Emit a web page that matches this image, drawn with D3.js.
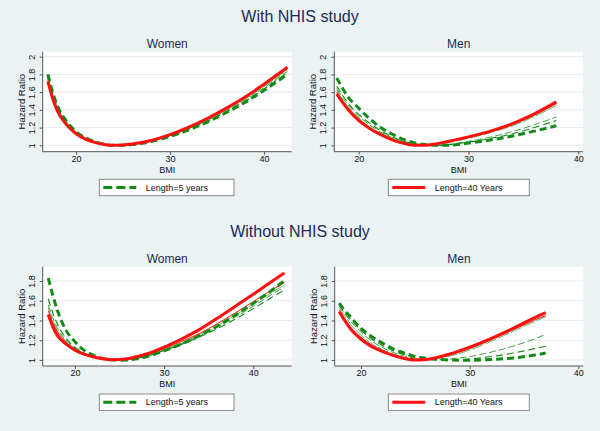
<!DOCTYPE html>
<html><head><meta charset="utf-8">
<script src="https://cdn.jsdelivr.net/npm/d3@7"></script>
<style>
body{margin:0;background:#eaf2f3;}
svg{display:block;font-family:"Liberation Sans",Arial,Helvetica,sans-serif;}
</style>
</head><body>
<svg id="c" width="600" height="431"></svg>
<script>
// ---------------- DATA ----------------
const mainTitles = ["With NHIS study", "Without NHIS study"];
const panelTitles = ["Women", "Men", "Women", "Men"];
const legendLabels = ["Length=5 years", "Length=40 Years"];
const xTicks = [20, 30, 40];
const yTicksTop = [1, 1.2, 1.4, 1.6, 1.8, 2];
const yTicksBottom = [1, 1.2, 1.4, 1.6, 1.8];
const seriesKeys = ["L10", "L15", "L20", "L30", "L5", "L40"];

// Women, with NHIS
const bmiWomenWith = [17, 17.5, 18, 19, 20, 21, 22, 23, 24, 25, 26, 27, 28, 30, 32, 34, 36, 38, 40, 42.5];
const womenWith_L5  = [1.80, 1.60, 1.45, 1.27, 1.155, 1.085, 1.04, 1.012, 1.0, 1.0, 1.008, 1.022, 1.042, 1.10, 1.175, 1.265, 1.37, 1.485, 1.62, 1.80];
const womenWith_L10 = [1.78, 1.59, 1.44, 1.26, 1.15, 1.082, 1.038, 1.011, 1.0, 1.001, 1.01, 1.025, 1.045, 1.105, 1.181, 1.273, 1.38, 1.497, 1.635, 1.82];
const womenWith_L15 = [1.77, 1.58, 1.43, 1.255, 1.145, 1.079, 1.037, 1.011, 1.0, 1.002, 1.011, 1.027, 1.048, 1.109, 1.188, 1.282, 1.39, 1.51, 1.65, 1.835];
const womenWith_L20 = [1.76, 1.57, 1.42, 1.25, 1.141, 1.076, 1.036, 1.01, 1.0, 1.003, 1.012, 1.028, 1.05, 1.112, 1.193, 1.29, 1.40, 1.522, 1.663, 1.85];
const womenWith_L30 = [1.74, 1.55, 1.40, 1.24, 1.135, 1.073, 1.034, 1.01, 1.0, 1.004, 1.014, 1.03, 1.053, 1.116, 1.199, 1.298, 1.41, 1.534, 1.677, 1.865];
const womenWith_L40 = [1.72, 1.53, 1.39, 1.23, 1.13, 1.07, 1.033, 1.01, 1.0, 1.004, 1.015, 1.032, 1.055, 1.12, 1.205, 1.305, 1.42, 1.545, 1.69, 1.88];

// Men, with NHIS
const bmiMenWith = [18, 18.5, 19, 20, 21, 22, 23, 24, 25, 26, 27, 28, 30, 32, 34, 36, 38];
const menWith_L5  = [1.76, 1.65, 1.55, 1.42, 1.30, 1.20, 1.13, 1.07, 1.03, 1.01, 1.0, 1.0, 1.025, 1.06, 1.105, 1.16, 1.22];
const menWith_L10 = [1.67, 1.57, 1.48, 1.35, 1.25, 1.165, 1.10, 1.05, 1.02, 1.005, 1.0, 1.005, 1.035, 1.078, 1.13, 1.20, 1.28];
const menWith_L15 = [1.64, 1.54, 1.46, 1.33, 1.23, 1.15, 1.09, 1.045, 1.015, 1.003, 1.0, 1.008, 1.044, 1.093, 1.155, 1.232, 1.32];
const menWith_L20 = [1.62, 1.52, 1.44, 1.31, 1.21, 1.135, 1.08, 1.037, 1.01, 1.0, 1.008, 1.026, 1.078, 1.142, 1.22, 1.325, 1.45];
const menWith_L30 = [1.60, 1.50, 1.42, 1.295, 1.20, 1.127, 1.072, 1.03, 1.005, 1.0, 1.012, 1.033, 1.088, 1.152, 1.233, 1.34, 1.47];
const menWith_L40 = [1.58, 1.49, 1.41, 1.28, 1.19, 1.12, 1.065, 1.025, 1.0, 1.0, 1.015, 1.04, 1.095, 1.16, 1.245, 1.355, 1.49];

// Women, without NHIS
const bmiWomenWithout = [17, 17.5, 18, 19, 20, 21, 22, 23, 24, 25, 26, 27, 28, 30, 32, 34, 36, 38, 40, 42, 43.5];
const womenWithout_L5  = [1.83, 1.66, 1.51, 1.30, 1.185, 1.10, 1.05, 1.017, 1.003, 0.998, 1.0, 1.013, 1.033, 1.093, 1.163, 1.25, 1.345, 1.455, 1.575, 1.70, 1.805];
const womenWithout_L10 = [1.62, 1.48, 1.37, 1.22, 1.13, 1.07, 1.035, 1.012, 1.0, 0.998, 1.004, 1.018, 1.038, 1.095, 1.16, 1.235, 1.32, 1.415, 1.52, 1.63, 1.71];
const womenWithout_L15 = [1.56, 1.43, 1.33, 1.20, 1.12, 1.066, 1.033, 1.012, 1.0, 0.999, 1.006, 1.021, 1.042, 1.10, 1.167, 1.245, 1.335, 1.435, 1.545, 1.66, 1.74];
const womenWithout_L20 = [1.53, 1.40, 1.31, 1.19, 1.115, 1.064, 1.033, 1.013, 1.001, 1.0, 1.008, 1.024, 1.046, 1.105, 1.175, 1.255, 1.35, 1.455, 1.565, 1.68, 1.76];
const womenWithout_L30 = [1.50, 1.38, 1.29, 1.18, 1.11, 1.063, 1.034, 1.014, 1.002, 1.002, 1.011, 1.028, 1.052, 1.115, 1.19, 1.27, 1.37, 1.478, 1.59, 1.705, 1.785];
const womenWithout_L40 = [1.46, 1.34, 1.25, 1.16, 1.10, 1.06, 1.033, 1.015, 1.003, 1.004, 1.015, 1.035, 1.06, 1.13, 1.215, 1.31, 1.425, 1.545, 1.665, 1.79, 1.88];

// Men, without NHIS
const bmiMenWithout = [18, 18.5, 19, 20, 21, 22, 23, 24, 25, 26, 27, 28, 30, 32, 34, 36, 37];
const menWithout_L5  = [1.575, 1.50, 1.44, 1.32, 1.235, 1.17, 1.11, 1.07, 1.035, 1.017, 1.007, 1.0, 0.998, 1.005, 1.02, 1.05, 1.07];
const menWithout_L10 = [1.56, 1.48, 1.42, 1.30, 1.21, 1.145, 1.09, 1.055, 1.025, 1.01, 1.003, 1.0, 1.01, 1.035, 1.07, 1.115, 1.14];
const menWithout_L15 = [1.55, 1.47, 1.40, 1.28, 1.19, 1.125, 1.075, 1.04, 1.017, 1.005, 1.003, 1.008, 1.035, 1.08, 1.14, 1.215, 1.26];
const menWithout_L20 = [1.53, 1.45, 1.37, 1.25, 1.165, 1.105, 1.06, 1.027, 1.007, 1.0, 1.012, 1.035, 1.10, 1.19, 1.29, 1.39, 1.44];
const menWithout_L30 = [1.51, 1.42, 1.34, 1.23, 1.15, 1.095, 1.052, 1.02, 1.003, 1.002, 1.018, 1.045, 1.115, 1.205, 1.305, 1.405, 1.45];
const menWithout_L40 = [1.49, 1.40, 1.32, 1.21, 1.135, 1.085, 1.045, 1.015, 1.0, 1.005, 1.025, 1.055, 1.13, 1.22, 1.32, 1.43, 1.48];

// ---------------- STYLE / LAYOUT ----------------
const GREEN = "#138a17", RED = "#ff1010";
const styles = {
  L5:  {stroke: GREEN, width: 3,   dash: "7,4"},
  L10: {stroke: GREEN, width: 1.1, dash: "7,4"},
  L15: {stroke: GREEN, width: 0.8, dash: "7,3"},
  L20: {stroke: "#3aa03a", width: 0.8, dash: "12,2"},
  L30: {stroke: RED,   width: 1,   dash: null},
  L40: {stroke: RED,   width: 3,   dash: null}
};

const panels = [
  {title: panelTitles[0], bmi: bmiWomenWith,
   s: {L5: womenWith_L5, L10: womenWith_L10, L15: womenWith_L15, L20: womenWith_L20, L30: womenWith_L30, L40: womenWith_L40},
   left: 42.7, right: 291.7, top: 51.7, bottom: 151.7, xDom: [16.45, 42.95], yDom: [0.928, 2.056], yTicks: yTicksTop,
   titleY: 43.3, legend: {x: 99.3, w: 134.7, y: 179.3, key: "L5", label: legendLabels[0]}},
  {title: panelTitles[1], bmi: bmiMenWith,
   s: {L5: menWith_L5, L10: menWith_L10, L15: menWith_L15, L20: menWith_L20, L30: menWith_L30, L40: menWith_L40},
   left: 334.3, right: 583, top: 51.7, bottom: 151.7, xDom: [17.78, 40.43], yDom: [0.928, 2.056], yTicks: yTicksTop,
   titleY: 43.3, legend: {x: 388.3, w: 141, y: 179.3, key: "L40", label: legendLabels[1]}},
  {title: panelTitles[2], bmi: bmiWomenWithout,
   s: {L5: womenWithout_L5, L10: womenWithout_L10, L15: womenWithout_L15, L20: womenWithout_L20, L30: womenWithout_L30, L40: womenWithout_L40},
   left: 42.7, right: 291.7, top: 266.7, bottom: 366, xDom: [16.38, 44.31], yDom: [0.939, 1.945], yTicks: yTicksBottom,
   titleY: 258.3, legend: {x: 99.3, w: 134.7, y: 394, key: "L5", label: legendLabels[0]}},
  {title: panelTitles[3], bmi: bmiMenWithout,
   s: {L5: menWithout_L5, L10: menWithout_L10, L15: menWithout_L15, L20: menWithout_L20, L30: menWithout_L30, L40: menWithout_L40},
   left: 334.7, right: 583.3, top: 266.7, bottom: 366, xDom: [17.58, 40.46], yDom: [0.939, 1.945], yTicks: yTicksBottom,
   titleY: 258.3, legend: {x: 388.3, w: 141, y: 394, key: "L40", label: legendLabels[1]}}
];

const svg = d3.select("#c");
svg.append("rect").attr("width", 600).attr("height", 431).attr("fill", "#eaf2f3");

const TITLE = "#1c2a56", TXT = "#111";
svg.append("text").attr("x", 300).attr("y", 16).attr("dy", "0.35em").attr("text-anchor", "middle")
  .attr("font-size", 16).attr("fill", TITLE).text(mainTitles[0]);
svg.append("text").attr("x", 300).attr("y", 231.7).attr("dy", "0.35em").attr("text-anchor", "middle")
  .attr("font-size", 16).attr("fill", TITLE).text(mainTitles[1]);

panels.forEach(p => {
  const g = svg.append("g");
  const x = d3.scaleLinear().domain(p.xDom).range([p.left, p.right]);
  const y = d3.scaleLinear().domain(p.yDom).range([p.bottom, p.top]);

  g.append("rect").attr("x", p.left).attr("y", p.top).attr("width", p.right - p.left)
    .attr("height", p.bottom - p.top).attr("fill", "#fff");

  // gridlines
  g.selectAll(".grid").data(p.yTicks).join("line")
    .attr("x1", p.left).attr("x2", p.right)
    .attr("y1", d => y(d)).attr("y2", d => y(d))
    .attr("stroke", "#e3ecef").attr("stroke-width", 1);

  // curves
  const line = d3.line().x(d => x(d[0])).y(d => y(d[1])).curve(d3.curveMonotoneX);
  seriesKeys.forEach(k => {
    const st = styles[k];
    const pts = p.bmi.map((b, i) => [b, p.s[k][i]]);
    g.append("path").attr("d", line(pts)).attr("fill", "none")
      .attr("stroke", st.stroke).attr("stroke-width", st.width)
      .attr("stroke-dasharray", st.dash).attr("stroke-linecap", "butt");
  });

  // axes
  const xAxis = d3.axisBottom(x).tickValues(xTicks).tickSize(3).tickPadding(1).tickFormat(d3.format("d"));
  const xg = g.append("g").attr("transform", `translate(0,${p.bottom})`).call(xAxis);
  xg.select(".domain").attr("stroke", "#555").attr("d", `M${p.left},0H${p.right}`);
  xg.selectAll(".tick line").attr("stroke", "#555");
  xg.selectAll(".tick text").attr("font-size", 9).attr("fill", TXT)
    .attr("font-family", "Liberation Sans, Arial, sans-serif");

  const yAxis = d3.axisLeft(y).tickValues(p.yTicks).tickSize(3).tickFormat(d => d3.format("")(+d.toFixed(1)));
  const yg = g.append("g").attr("transform", `translate(${p.left},0)`).call(yAxis);
  yg.select(".domain").attr("stroke", "#555").attr("d", `M0,${p.bottom}V${p.top}`);
  yg.selectAll(".tick line").attr("stroke", "#555");
  yg.selectAll(".tick text").attr("font-size", 9).attr("fill", TXT)
    .attr("font-family", "Liberation Sans, Arial, sans-serif")
    .attr("x", null).attr("text-anchor", "middle")
    .attr("transform", "translate(-11,0) rotate(-90)").attr("dy", "0.35em");

  // axis titles
  g.append("text").attr("x", (p.left + p.right) / 2).attr("y", p.bottom + 18.2).attr("dy", "0.35em")
    .attr("text-anchor", "middle").attr("font-size", 9).attr("fill", TXT).text("BMI");
  g.append("text").attr("transform", `translate(${p.left - 21.5},${(p.top + p.bottom) / 2}) rotate(-90)`)
    .attr("dy", "0.35em").attr("text-anchor", "middle").attr("font-size", 9.5).attr("fill", TXT).text("Hazard Ratio");

  // panel title
  g.append("text").attr("x", (p.left + p.right) / 2).attr("y", p.titleY).attr("dy", "0.35em")
    .attr("text-anchor", "middle").attr("font-size", 12).attr("fill", TITLE).text(p.title);

  // legend
  const L = p.legend, st = styles[L.key];
  const lg = g.append("g");
  lg.append("rect").attr("x", L.x).attr("y", L.y).attr("width", L.w).attr("height", 16.4)
    .attr("fill", "#fff").attr("stroke", "#8a8a8a").attr("stroke-width", 1);
  lg.append("line").attr("x1", L.x + 4).attr("x2", L.x + 37).attr("y1", L.y + 8.2).attr("y2", L.y + 8.2)
    .attr("stroke", st.stroke).attr("stroke-width", st.width).attr("stroke-dasharray", st.dash ? "9,4" : null);
  lg.append("text").attr("x", L.x + 46.4).attr("y", L.y + 8.2).attr("dy", "0.35em")
    .attr("font-size", 9).attr("fill", TXT).text(L.label);
});
</script>
</body></html>
